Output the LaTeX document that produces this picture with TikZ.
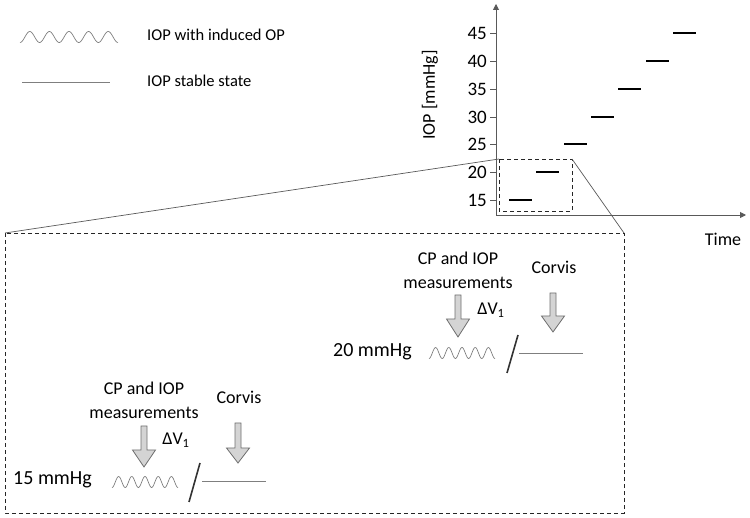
\documentclass[tikz,border=0pt]{standalone}
\usepackage{fontspec}
\setmainfont{Carlito}
\usetikzlibrary{arrows.meta}
\definecolor{wavegray}{HTML}{7F7F7F}
\definecolor{axisgray}{HTML}{595959}
\definecolor{arrowfill}{HTML}{D4D4D4}
\definecolor{arrowline}{HTML}{6E6E6E}
\newcommand\blkarrow[6]{%
  \draw[blockarrow] (#1-#5,#2) -- (#1+#5,#2) -- (#1+#5,#3) -- (#1+#6,#3) -- (#1,#4) -- (#1-#6,#3) -- (#1-#5,#3) -- cycle;}
\begin{document}
\begin{tikzpicture}[x=1pt,y=-1pt,
  txt/.style={inner sep=0pt, font=\fontsize{18}{24}\selectfont},
  legtxt/.style={inner sep=0pt, anchor=west, font=\fontsize{16.5}{20}\selectfont},
  numlbl/.style={inner sep=0pt, anchor=east, font=\fontsize{19}{22}\selectfont},
  mmlbl/.style={inner sep=0pt, font=\fontsize{20}{24}\selectfont},
  wavy/.style={draw=wavegray, line width=0.7pt},
  thinline/.style={draw=wavegray, line width=0.8pt},
  axisline/.style={draw=axisgray, line width=0.9pt},
  level/.style={draw=black, line width=2pt},
  slash/.style={draw=black!80, line width=1.6pt},
  dashbox/.style={draw=black!85, line width=0.9pt, dash pattern=on 4pt off 3pt},
  connector/.style={draw=axisgray, line width=0.7pt},
  blockarrow/.style={fill=arrowfill, draw=arrowline, line width=0.8pt, line join=miter}
]
\useasboundingbox (0,0) rectangle (750,518);

% legend
\draw[wavy] plot[domain=0:98, samples=120, smooth] ({20+\x},{37+5.5*cos(\x/19.6*360)});
\node[legtxt] (leg1) at (147,35) {IOP with induced OP};
\draw[thinline] (22,82) -- (110,82);
\node[legtxt] (leg2) at (147,81) {IOP stable state};

% axes
\coordinate (O) at (496,215);
\coordinate (ytop) at (496,4);
\coordinate (xend) at (746,215);
\draw[axisline,-{Triangle[length=6pt,width=6pt]}] (O) -- (ytop);
\draw[axisline,-{Triangle[length=6pt,width=6pt]}] (O) -- (xend);
\node[txt, font=\fontsize{18}{22}\selectfont] (time) at (723,239) {Time};
\node[txt, rotate=90, font=\fontsize{18}{22}\selectfont] (ylab) at (430,95) {IOP [mmHg]};

\foreach \i in {0,...,6} {
  \pgfmathsetmacro\yy{round(200-27.83*\i)}
  \pgfmathsetmacro\xs{round(509+27.3*\i)}
  \pgfmathtruncatemacro\val{15+5*\i}
  \draw[axisline] (490,\yy) -- (496,\yy);
  \node[numlbl] (t\val) at (487,\yy) {\val};
  \draw[level] (\xs,\yy) -- ++(22.5,0);
}

% zoom boxes
\coordinate (sbTL) at (499,159);
\coordinate (sbBR) at (572,211);
\coordinate (sbTR) at (572,159);
\coordinate (bbTL) at (5,233);
\coordinate (bbTR) at (624,233);
\coordinate (bbBR) at (624,513);
\draw[dashbox] (sbTL) rectangle (sbBR);
\draw[dashbox] (bbTL) rectangle (bbBR);
\draw[connector] (sbTL) -- (bbTL);
\draw[connector] (sbTR) -- (bbTR);

% lower group (15 mmHg)
\node[txt, align=center] (meas1) at (144,400) {CP and IOP\\measurements};
\node[txt] (corvis1) at (239,397) {Corvis};
\node[txt] (dv1) at (176,440) {ΔV\textsubscript{1}};
\blkarrow{144}{426}{450}{467}{3}{11.5}
\blkarrow{238}{423}{448}{463}{3}{11.5}
\node[mmlbl, anchor=west] (p15) at (13,480) {15 mmHg};
\draw[wavy] plot[domain=0:66, samples=100, smooth] ({112+\x},{482+5.5*cos(\x/13.2*360)});
\draw[slash] (189,502) -- (200,463);
\draw[thinline] (202,481) -- (266,481);

% upper group (20 mmHg)
\node[txt, align=center] (meas2) at (458,270) {CP and IOP\\measurements};
\node[txt] (corvis2) at (554,267) {Corvis};
\node[txt] (dv2) at (491,310) {ΔV\textsubscript{1}};
\blkarrow{458}{295}{319}{337}{3}{11.5}
\blkarrow{553}{293}{316}{332}{3}{11.5}
\node[mmlbl, anchor=east] (p20) at (412,352) {20 mmHg};
\draw[wavy] plot[domain=0:66, samples=100, smooth] ({429+\x},{353+5.5*cos(\x/13.2*360)});
\draw[slash] (507,373) -- (518,335);
\draw[thinline] (519,353) -- (583,353);
\end{tikzpicture}
\end{document}
